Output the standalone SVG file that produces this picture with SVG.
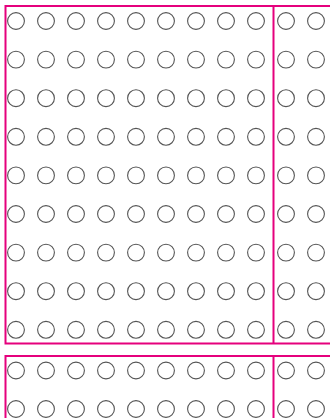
<svg xmlns="http://www.w3.org/2000/svg" xmlns:xlink="http://www.w3.org/1999/xlink" width="330" height="418" viewBox="0 0 330 418">
<style>
.c{fill:none;stroke:#555;stroke-width:1.1}
.b{fill:none;stroke:#e5007d;stroke-width:2}
</style>
<defs>
<g id="row">
<circle class="c" cx="16" cy="0" r="8.4"/>
<circle class="c" cx="46" cy="0" r="8.4"/>
<circle class="c" cx="76" cy="0" r="8.4"/>
<circle class="c" cx="106" cy="0" r="8.4"/>
<circle class="c" cx="136" cy="0" r="8.4"/>
<circle class="c" cx="166" cy="0" r="8.4"/>
<circle class="c" cx="196" cy="0" r="8.4"/>
<circle class="c" cx="226" cy="0" r="8.4"/>
<circle class="c" cx="256" cy="0" r="8.4"/>
<circle class="c" cx="286" cy="0" r="8.4"/>
<circle class="c" cx="316" cy="0" r="8.4"/>
</g>
</defs>
<g id="block1">
<use xlink:href="#row" y="21"/>
<use xlink:href="#row" y="59.6"/>
<use xlink:href="#row" y="98.2"/>
<use xlink:href="#row" y="136.8"/>
<use xlink:href="#row" y="175.4"/>
<use xlink:href="#row" y="214"/>
<use xlink:href="#row" y="252.6"/>
<use xlink:href="#row" y="291.2"/>
<use xlink:href="#row" y="329.8"/>
<path class="b" d="M335 6 H5.5 V343.5 H335 M273.5 6 V343.5"/>
</g>
<g id="block2">
<use xlink:href="#row" y="370.5"/>
<use xlink:href="#row" y="409"/>
<path class="b" d="M335 356 H5.5 V425 M273.5 356 V425"/>
</g>
</svg>
